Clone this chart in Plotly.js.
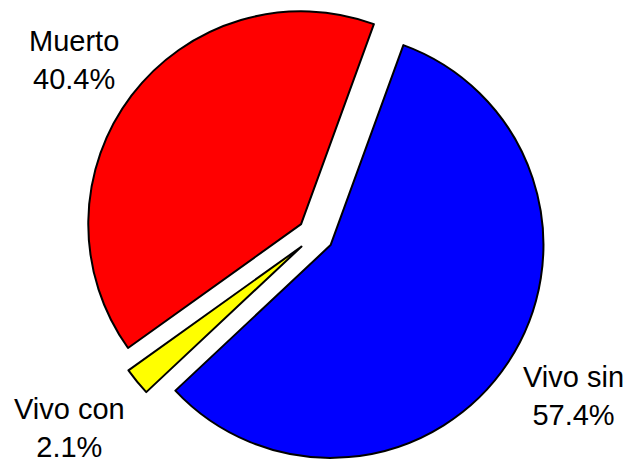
<!DOCTYPE html>
<html>
<head>
<meta charset="utf-8">
<script src="https://cdn.plot.ly/plotly-3.0.1.min.js"></script>
<style>
  html, body { margin: 0; padding: 0; background: #fff; }
</style>
</head>
<body>
<div id="grafico"></div>
<script>
// etiquetas y porcentajes
const categorias = ['Vivo sin', 'Vivo con', 'Muerto'];
const porcentajes = [57.4, 2.1, 40.4];
const colores = ['#0000ff', '#ffff00', '#ff0000'];

function dibujar() {
        // posición de cada rótulo (fracción del papel), en el mismo orden que categorias
        let rotuloX = [0.909, 0.110, 0.1165];
        let rotuloY = [0.150, 0.081, 0.871];

        let tarta = {
                type: 'pie',
                labels: categorias,
                values: porcentajes,
                sort: false,
                direction: 'clockwise',
                rotation: 20,
                pull: [0.085, 0.085, 0.085],
                domain: { x: [0, 1], y: [0, 0.991] },
                marker: {
                        colors: colores,
                        line: { color: '#000000', width: 2 },
                },
                textinfo: 'none',
                hoverinfo: 'none',
        };

        // los rótulos van fuera, lejos de la tarta, como en el original
        let rotulos = categorias.map((c, i) => ({
                xref: 'paper',
                yref: 'paper',
                x: rotuloX[i],
                y: rotuloY[i],
                xanchor: 'center',
                yanchor: 'middle',
                showarrow: false,
                align: 'center',
                text: c + '<br>' + porcentajes[i].toFixed(1) + '%',
                font: { family: '"Liberation Sans", Arial, sans-serif', size: 29, color: '#000000' },
        }));

        let layout = {
                width: 631,
                height: 466,
                margin: { l: 0, r: 0, t: 0, b: 0 },
                showlegend: false,
                paper_bgcolor: '#ffffff',
                annotations: rotulos,
        };

        let config = { displayModeBar: false, staticPlot: true };

        Plotly.newPlot(document.getElementById('grafico'), [tarta], layout, config);
}
dibujar();
</script>
</body>
</html>
